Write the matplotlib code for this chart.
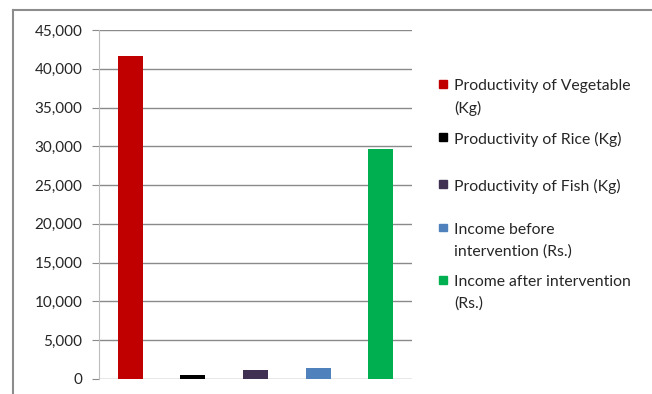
import matplotlib
matplotlib.use("Agg")
import matplotlib.pyplot as plt
from matplotlib.patches import Rectangle
from matplotlib.ticker import FuncFormatter

labels = ["Productivity of Vegetable\n(Kg)", "Productivity of Rice (Kg)",
          "Productivity of Fish (Kg)", "Income before\nintervention (Rs.)",
          "Income after intervention\n(Rs.)"]
values = [41700, 500, 1100, 1400, 29600]
colors = ["#C00000", "#000000", "#403152", "#4F81BD", "#00B050"]
yticks = [0, 5000, 10000, 15000, 20000, 25000, 30000, 35000, 40000, 45000]

plt.rcParams['font.family'] = ['Lato', 'DejaVu Sans']
W, H = 652, 394
fig = plt.figure(figsize=(W / 100, H / 100), dpi=100)
fig.patch.set_facecolor("white")

# outer frame (top and left lines)
fig.add_artist(plt.Line2D([12.5 / W, 1], [1 - 9.5 / H, 1 - 9.5 / H], color="#8c8c8c", lw=1.5))
fig.add_artist(plt.Line2D([12.5 / W, 12.5 / W], [0, 1 - 9.5 / H], color="#8c8c8c", lw=1.5))

ax = fig.add_axes([99 / W, 1 - 379 / H, (412 - 99) / W, (379 - 30) / H])
x = list(range(len(values)))
ax.bar(x, values, width=0.4, color=colors, edgecolor="none", zorder=3)
ax.set_xlim(-0.5, 4.5)
ax.set_ylim(0, 45000)
ax.set_yticks(yticks)
ax.yaxis.set_major_formatter(FuncFormatter(lambda v, p: f"{int(v):,}"))
ax.set_xticks([])
ax.grid(axis="y", color="#8a8a8a", lw=1, zorder=0)
for s in ["top", "right", "bottom"]:
    ax.spines[s].set_visible(False)
ax.spines["left"].set_color("#bdbdbd")
ax.tick_params(axis="y", length=5, color="#8a8a8a", labelsize=11, labelcolor="#262626", pad=7)

# legend
rows = [84, 137, 184, 228, 280]
for lab, col, yy in zip(labels, colors, rows):
    fig.add_artist(Rectangle((439 / W, 1 - (yy + 3.5) / H), 7.5 / W, 7.5 / H, color=col,
                             transform=fig.transFigure))
    fig.text(454 / W, 1 - (yy - 5) / H, lab, fontsize=11.3, va="top", ha="left",
             color="#262626", linespacing=1.65)

fig.savefig("out.png", dpi=100)
